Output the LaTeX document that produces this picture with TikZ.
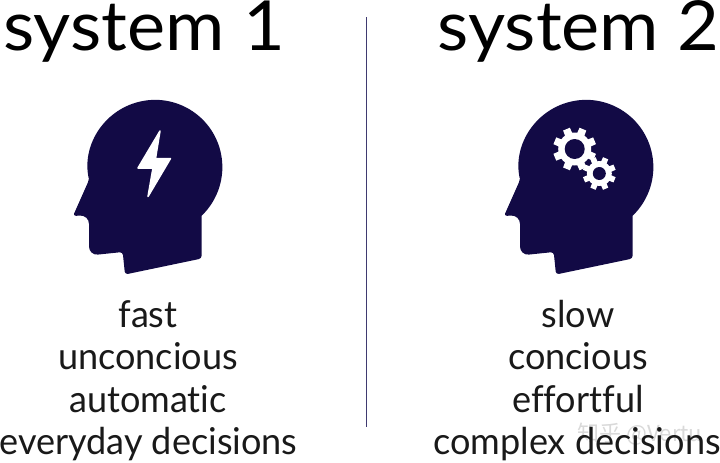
\documentclass[tikz,border=0pt]{standalone}
\usepackage{fontspec}
\setmainfont[Ligatures=NoCommon,FakeStretch=1.045]{Lato}
\newfontfamily\bodyfont[Ligatures=NoCommon,FakeStretch=0.975]{Lato}
\newfontfamily\cjkfont{Noto Sans CJK SC}
\definecolor{headblue}{HTML}{120A45}
\definecolor{rulecol}{HTML}{3F3A70}
\tikzset{
  titletext/.style={anchor=base,inner sep=0pt,font=\fontsize{69}{69}\selectfont,text=black},
  bodytext/.style={anchor=base,inner sep=0pt,font=\bodyfont\fontsize{37}{37}\selectfont,text=black!90},
  headshape/.style={fill=headblue,draw=none},
}
\newcommand{\headpath}{
  (89,180) arc[start angle=169,end angle=406,radius=67.3] -- (201.7,215)
  [rounded corners=3pt] -- (201.7,258.5) -- (125,274.5) -- (122.7,252)
  [rounded corners=9pt] -- (89,255.5) -- (89,215)
  [rounded corners=3pt] -- (73,216) -- (89,180) -- cycle
}
\newcommand{\gearpath}[4]{% cx cy outer body
  \foreach \k in {0,...,7}{
    \fill[white,rotate around={\k*45+22.5:(#1,#2)}]
      (#1-#3*0.2,#2) -- (#1-#3*0.17,#2-#3) -- (#1+#3*0.17,#2-#3) -- (#1+#3*0.2,#2) -- cycle;
  }
  \fill[white] (#1,#2) circle[radius=#4];
}
\begin{document}
\begin{tikzpicture}[x=1pt,y=-1pt]
\useasboundingbox (0,0) rectangle (720,463);
\node[titletext] (t1) at (144,50) {system 1};
\node[titletext] (t2) at (578.5,50) {system 2};
\coordinate (ra) at (366.5,17);
\coordinate (rb) at (366.5,427);
\draw[rulecol,line width=1.2pt] (ra) -- (rb);
% left head
\fill[headshape] \headpath;
\fill[white,draw=white,line width=1.5pt,line join=round] (160,131) -- (138,168) -- (153,168) -- (148,196.5) -- (170.5,158.5) -- (155.5,158.5) -- cycle;
% right head
\begin{scope}[xshift=431pt]
\fill[headshape] \headpath;
\end{scope}
\gearpath{574.7}{149}{21.5}{16.5}
\fill[headblue] (574.7,149) circle[radius=10];
\gearpath{599.3}{173.5}{16.5}{12.5}
\fill[headblue] (599.3,173.5) circle[radius=6.5];
% watermark
\node[anchor=base,inner sep=0pt,text=black!15,font=\cjkfont\fontsize{22}{22}\selectfont] (wm) at (640,441) {知乎 @Vertu};
% lists
\node[bodytext] (a1) at (148,327) {fast};
\node[bodytext] (a2) at (148,369.5) {unconcious};
\node[bodytext] (a3) at (148,412) {automatic};
\node[bodytext] (a4) at (148.5,454.5) {everyday decisions};
\node[bodytext] (b1) at (578,327) {slow};
\node[bodytext] (b2) at (578,369.5) {concious};
\node[bodytext] (b3) at (578,412) {effortful};
\node[bodytext] (b4) at (577,454.5) {complex decisions};
\end{tikzpicture}
\end{document}
